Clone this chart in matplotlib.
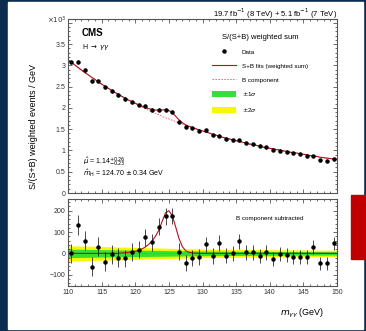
import numpy as np
import matplotlib
matplotlib.use("Agg")
import matplotlib.pyplot as plt
from matplotlib.patches import Rectangle, Patch
from matplotlib.lines import Line2D
from matplotlib.ticker import MultipleLocator, FuncFormatter

plt.rcParams['font.family'] = ['Liberation Sans', 'DejaVu Sans']
plt.rcParams['mathtext.fontset'] = 'dejavusans'

# bin centres (GeV)
mass = np.arange(110.5, 150.0, 1.0)

# S/(S+B) weighted events / GeV, in units of 10^3
weighted_k = [3.07, 3.08, 2.89, 2.64, 2.64, 2.48, 2.40, 2.30, 2.21, 2.14,
              2.08, 2.04, 1.96, 1.96, 1.96, 1.91, 1.67, 1.56, 1.52, 1.46,
              1.47, 1.36, 1.35, 1.27, 1.24, 1.24, 1.18, 1.15, 1.11, 1.07,
              1.01, 0.99, 0.97, 0.93, 0.92, 0.87, 0.87, 0.77, 0.75, 0.79]

# B component subtracted (events / GeV)
residual = [0, 133, 59, -63, 31, -39, -5, -20, -24, 5,
            17, 75, 52, 125, 175, 175, 8, -44, -21, -16,
            42, -11, 49, -11, 0, 57, 5, 5, -13, 5,
            -27, -5, -8, -16, -16, -16, 31, -47, -47, 47]

# statistical errors (events / GeV)
errors = [46, 46, 45, 45, 44, 44, 43, 43, 42, 42,
          41, 41, 40, 40, 40, 39, 39, 38, 38, 37,
          37, 37, 36, 36, 35, 35, 35, 34, 34, 34,
          33, 33, 33, 33, 32, 32, 32, 31, 31, 31]

# fitted B component on a 0.5 GeV grid, 110-150 GeV (10^3 events / GeV)
fit_mass = np.arange(110.0, 150.25, 0.5)
bkg_fit_k = [3.13, 3.07, 3.01, 2.95, 2.89, 2.83, 2.78, 2.72, 2.67, 2.61,
             2.56, 2.51, 2.46, 2.41, 2.36, 2.32, 2.27, 2.23, 2.18, 2.14,
             2.10, 2.06, 2.02, 1.98, 1.94, 1.91, 1.87, 1.84, 1.80, 1.77,
             1.74, 1.71, 1.68, 1.65, 1.62, 1.59, 1.56, 1.54, 1.51, 1.48,
             1.46, 1.43, 1.41, 1.38, 1.36, 1.33, 1.31, 1.29, 1.27, 1.25,
             1.23, 1.21, 1.19, 1.17, 1.15, 1.14, 1.12, 1.10, 1.08, 1.07,
             1.05, 1.04, 1.02, 1.01, 0.99, 0.98, 0.96, 0.95, 0.94, 0.92,
             0.91, 0.90, 0.88, 0.87, 0.86, 0.84, 0.83, 0.82, 0.81, 0.80,
             0.79]

# fitted signal component, 118-130 GeV on the same 0.5 GeV grid (events / GeV)
sig_start = 118.0
sig_peak = [2, 3, 5, 7, 10, 15, 21, 30, 42, 58, 80, 108, 150,
            190, 200, 178, 125, 70, 32, 12, 5, 2, 1, 0, 0]

# +-1 sigma / +-2 sigma background uncertainty bands (events / GeV)
band_mass = [110, 120, 130, 140, 150]
band_1sig = [20, 15, 11, 9, 8]
band_2sig = [36, 28, 20, 17, 15]

NAVY = '#0b2c4f'
FIT_RED = '#b3121f'
BKG_RED = '#e0606e'
GREEN = '#33e033'
YELLOW = '#f7f700'


def style_axes(ax):
    ax.tick_params(which='both', direction='in', top=True, right=True,
                   labelsize=5, pad=2, width=0.5, colors='#333333')
    ax.tick_params(which='major', length=3)
    ax.tick_params(which='minor', length=1.5)
    ax.xaxis.set_major_locator(MultipleLocator(5))
    ax.xaxis.set_minor_locator(MultipleLocator(1))
    for sp in ax.spines.values():
        sp.set_linewidth(0.8)
        sp.set_color('#555555')
    ax.set_xlim(110, 150)


def upper_label(v, pos):
    if v > 3.9:
        return ''
    return '%g' % round(v, 2)


def main():
    fig = plt.figure(figsize=(3.66, 3.31), dpi=100, facecolor=NAVY)
    W, H = 366.0, 331.0

    # white panel and red marker box
    fig.patches.append(Rectangle((8 / W, 2 / H), 355 / W, 327 / H,
                                 transform=fig.transFigure, color='white', zorder=-10))
    fig.patches.append(Rectangle((351 / W, 72 / H), 15 / W, 64 / H,
                                 transform=fig.transFigure, color='#c00000', zorder=5))

    ax1 = fig.add_axes([68 / W, 1 - 193 / H, 269 / W, 174 / H])
    ax2 = fig.add_axes([68 / W, 1 - 286 / H, 269 / W, 87 / H])
    for ax in (ax1, ax2):
        ax.set_facecolor('none')
        style_axes(ax)

    sig_full = np.zeros(len(fit_mass))
    i0 = int(round((sig_start - fit_mass[0]) / 0.5))
    sig_full[i0:i0 + len(sig_peak)] = sig_peak
    bkg = np.array(bkg_fit_k)
    err = np.array(errors)

    # upper panel
    ax1.plot(fit_mass, bkg, color=BKG_RED, ls='--', lw=0.6, dashes=(2, 1.5))
    ax1.plot(fit_mass, bkg + sig_full / 1000.0, color=FIT_RED, lw=0.8)
    ax1.errorbar(mass, weighted_k, yerr=err / 1000.0, fmt='o', color='black',
                 ms=2.2, elinewidth=0.5, capsize=0, zorder=4)
    ax1.set_ylim(0, 4.09)
    ax1.yaxis.set_major_locator(MultipleLocator(0.5))
    ax1.yaxis.set_minor_locator(MultipleLocator(0.1))
    ax1.yaxis.set_major_formatter(FuncFormatter(upper_label))
    ax1.tick_params(labelbottom=False)
    ax1.text(-0.005, 0.995, r'$\times10^{3}$', transform=ax1.transAxes,
             ha='right', va='center', fontsize=5, color='#333333')

    ax1.text(0.052, 0.92, 'CMS', transform=ax1.transAxes, fontsize=7,
             fontweight='bold', va='center', ha='left')
    ax1.text(0.052, 0.84, r'H $\rightarrow$ $\gamma\gamma$', transform=ax1.transAxes,
             fontsize=5, va='center', ha='left')
    ax1.text(0.056, 0.178, r'$\hat{\mu}$ = 1.14$^{+0.26}_{-0.23}$', transform=ax1.transAxes,
             fontsize=5, va='center', ha='left')
    ax1.text(0.056, 0.112, r'$\hat{m}_{\mathrm{H}}$ = 124.70 $\pm$ 0.34 GeV',
             transform=ax1.transAxes, fontsize=5, va='center', ha='left')
    ax1.text(1.0, 1.03, r'19.7 fb$^{-1}$ (8 TeV) + 5.1 fb$^{-1}$ (7 TeV)',
             transform=ax1.transAxes, fontsize=5.5, va='center', ha='right')

    handles = [
        Line2D([], [], color='black', marker='o', ms=2.2, ls='none'),
        Line2D([], [], color=FIT_RED, lw=0.8),
        Line2D([], [], color=BKG_RED, lw=0.6, ls='--', dashes=(2, 1.5)),
        Patch(facecolor=GREEN, edgecolor='none'),
        Patch(facecolor=YELLOW, edgecolor='none'),
    ]
    labels = ['Data', 'S+B fits (weighted sum)', 'B component',
              r'$\pm$1$\sigma$', r'$\pm$2$\sigma$']
    leg = ax1.legend(handles, labels, title='S/(S+B) weighted sum', loc='upper left',
                     bbox_to_anchor=(0.535, 0.915), frameon=False, fontsize=4.5,
                     title_fontsize=5.5, handlelength=3.8, handleheight=1.1,
                     handletextpad=1.0, labelspacing=1.25, borderpad=0,
                     borderaxespad=0)
    leg._legend_box.align = 'center'

    # lower panel
    ax2.fill_between(band_mass, -np.array(band_2sig), band_2sig, color=YELLOW, lw=0)
    ax2.fill_between(band_mass, -np.array(band_1sig), band_1sig, color=GREEN, lw=0)
    ax2.plot(fit_mass, np.zeros(len(fit_mass)), color=BKG_RED, ls='--', lw=0.6,
             dashes=(2, 1.5))
    ax2.plot(fit_mass, sig_full, color=FIT_RED, lw=0.8)
    ax2.errorbar(mass, residual, yerr=err, fmt='o', color='black',
                 ms=2.2, elinewidth=0.5, capsize=0, zorder=4)
    ax2.set_ylim(-153, 255)
    ax2.yaxis.set_major_locator(MultipleLocator(100))
    ax2.yaxis.set_minor_locator(MultipleLocator(20))
    ax2.text(0.75, 0.78, 'B component subtracted', transform=ax2.transAxes,
             fontsize=4.5, ha='center', va='center')
    ax2.text(0.955, -0.31, r'$m_{\gamma\gamma}$ (GeV)', transform=ax2.transAxes,
             fontsize=6.5, ha='right', va='center')

    fig.text(33 / W, 1 - 126.5 / H, 'S/(S+B) weighted events / GeV',
             rotation=90, fontsize=6.5, ha='center', va='center')

    fig.savefig('out.png', dpi=100, facecolor=NAVY)


if __name__ == "__main__":
    main()
